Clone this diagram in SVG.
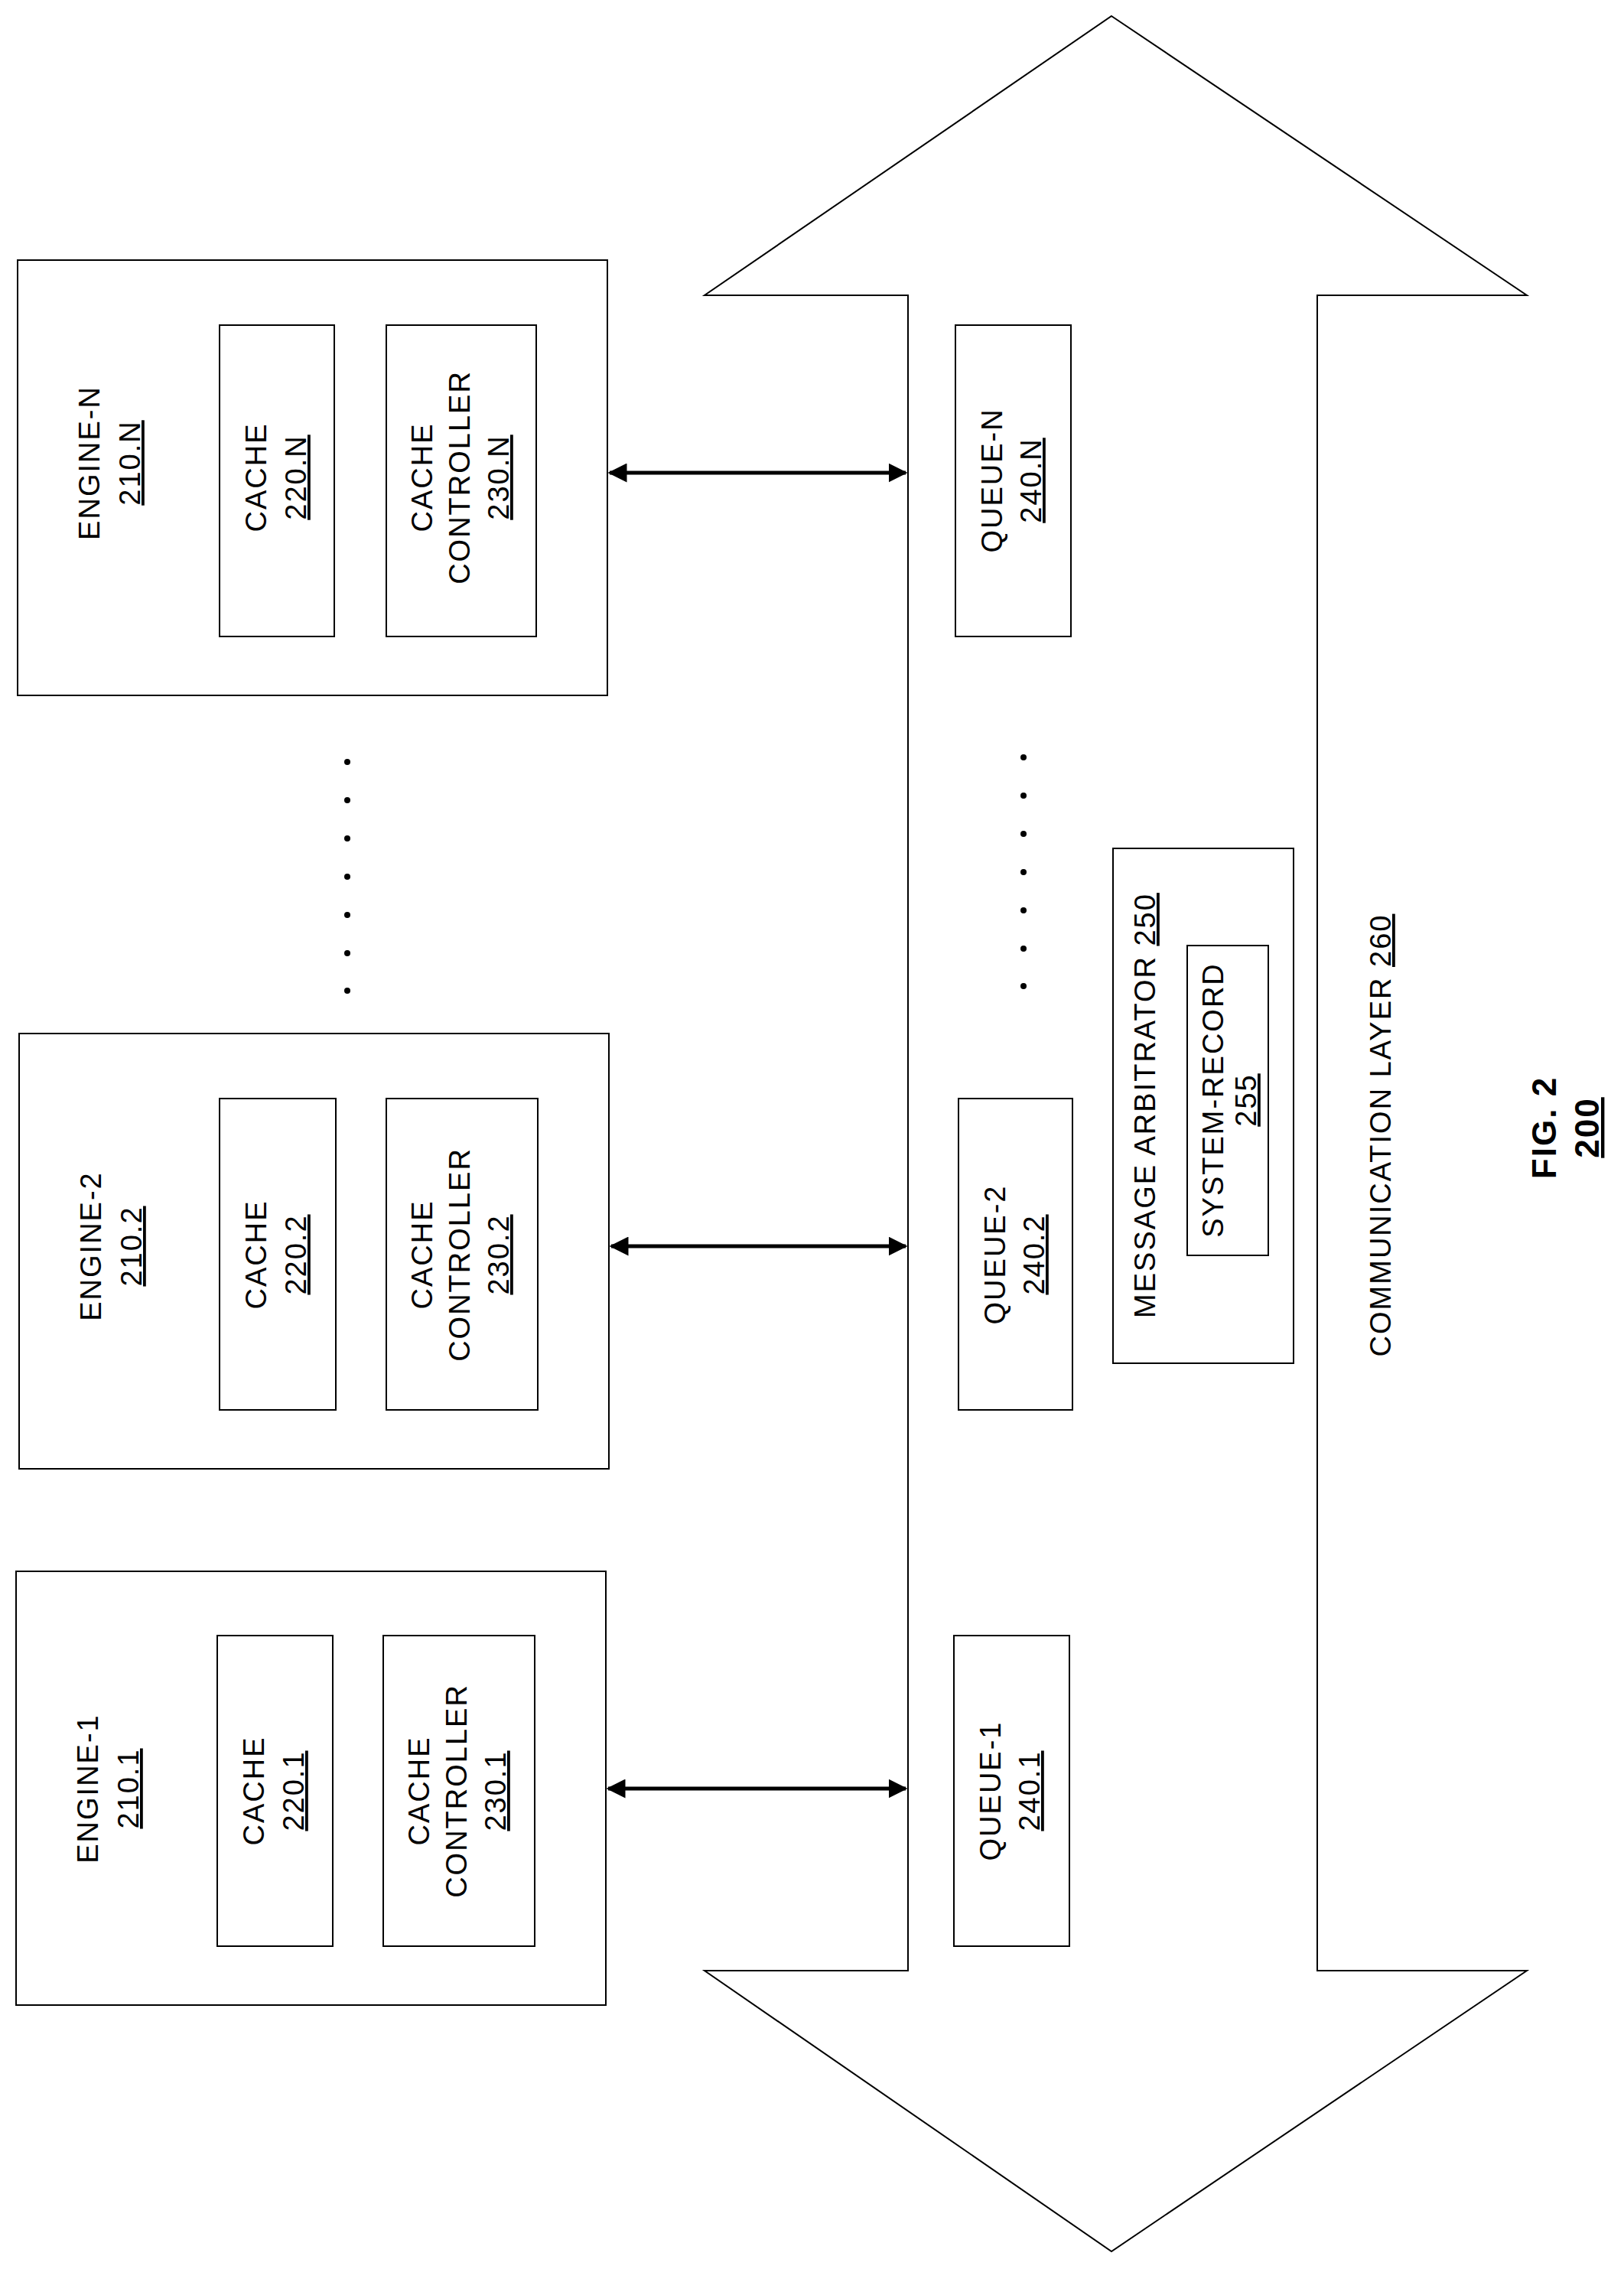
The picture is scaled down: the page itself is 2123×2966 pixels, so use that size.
<svg xmlns="http://www.w3.org/2000/svg" width="2123" height="2966" viewBox="0 0 2123 2966">
<style>
rect,polygon{fill:none;stroke:#000;stroke-width:2}
text{font-family:"Liberation Sans",Arial,sans-serif;font-size:38px;letter-spacing:2px;text-anchor:middle;fill:#000}
.u{text-decoration:underline}
.fig{font-weight:bold;font-size:44px}
.c line{stroke:#000;stroke-width:5}
circle{fill:#000}
</style>
<defs>
<marker id="ah" viewBox="0 0 10 10" refX="9" refY="5" markerWidth="5" markerHeight="5" orient="auto-start-reverse" markerUnits="strokeWidth"><path d="M0,0L10,5L0,10z" fill="#000"/></marker>
</defs>
<g id="comm-layer">
<polygon points="1453,21 1996,386 1722,386 1722,2576 1996,2576 1453,2943 921,2576 1187,2576 1187,386 921,386"/>
<text transform="translate(1818,1484) rotate(-90)">COMMUNICATION LAYER <tspan class="u">260</tspan></text>
</g>
<g id="engine-n">
<rect x="23" y="340" width="771" height="569"/>
<text transform="translate(130,605) rotate(-90)">ENGINE-N</text>
<text transform="translate(183,605) rotate(-90)" class="u">210.N</text>
</g>
<g id="cache-n"><rect x="287" y="425" width="150" height="407"/>
<text transform="translate(348,624) rotate(-90)">CACHE</text>
<text transform="translate(400,624) rotate(-90)" class="u">220.N</text></g>
<g id="ctrl-n"><rect x="505" y="425" width="196" height="407"/>
<text transform="translate(565,624) rotate(-90)">CACHE</text>
<text transform="translate(614,624) rotate(-90)">CONTROLLER</text>
<text transform="translate(665,624) rotate(-90)" class="u">230.N</text></g>
<g id="engine-2">
<rect x="25" y="1351" width="771" height="569"/>
<text transform="translate(132,1629) rotate(-90)">ENGINE-2</text>
<text transform="translate(185,1629) rotate(-90)" class="u">210.2</text>
</g>
<g id="cache-2"><rect x="287" y="1436" width="152" height="407"/>
<text transform="translate(348,1640) rotate(-90)">CACHE</text>
<text transform="translate(400,1640) rotate(-90)" class="u">220.2</text></g>
<g id="ctrl-2"><rect x="505" y="1436" width="198" height="407"/>
<text transform="translate(565,1640) rotate(-90)">CACHE</text>
<text transform="translate(614,1640) rotate(-90)">CONTROLLER</text>
<text transform="translate(665,1640) rotate(-90)" class="u">230.2</text></g>
<g id="engine-1">
<rect x="21" y="2054" width="771" height="567"/>
<text transform="translate(128,2338) rotate(-90)">ENGINE-1</text>
<text transform="translate(181,2338) rotate(-90)" class="u">210.1</text>
</g>
<g id="cache-1"><rect x="284" y="2138" width="151" height="406"/>
<text transform="translate(345,2341) rotate(-90)">CACHE</text>
<text transform="translate(397,2341) rotate(-90)" class="u">220.1</text></g>
<g id="ctrl-1"><rect x="501" y="2138" width="198" height="406"/>
<text transform="translate(561,2341) rotate(-90)">CACHE</text>
<text transform="translate(610,2341) rotate(-90)">CONTROLLER</text>
<text transform="translate(661,2341) rotate(-90)" class="u">230.1</text></g>
<g id="queue-n"><rect x="1249" y="425" width="151" height="407"/>
<text transform="translate(1310,628) rotate(-90)">QUEUE-N</text>
<text transform="translate(1361,628) rotate(-90)" class="u">240.N</text></g>
<g id="queue-2"><rect x="1253" y="1436" width="149" height="407"/>
<text transform="translate(1314,1640) rotate(-90)">QUEUE-2</text>
<text transform="translate(1365,1640) rotate(-90)" class="u">240.2</text></g>
<g id="queue-1"><rect x="1247" y="2138" width="151" height="406"/>
<text transform="translate(1308,2341) rotate(-90)">QUEUE-1</text>
<text transform="translate(1359,2341) rotate(-90)" class="u">240.1</text></g>
<g id="message-arbitrator"><rect x="1455" y="1109" width="236" height="673"/>
<text transform="translate(1510,1445) rotate(-90)">MESSAGE ARBITRATOR <tspan class="u">250</tspan></text></g>
<g id="system-record"><rect x="1552" y="1236" width="106" height="405"/>
<text transform="translate(1599,1438) rotate(-90)">SYSTEM-RECORD</text>
<text transform="translate(1642,1438) rotate(-90)" class="u">255</text></g>
<g id="dots">
<circle cx="454" cy="996" r="4"/><circle cx="454" cy="1046" r="4"/><circle cx="454" cy="1096" r="4"/><circle cx="454" cy="1146" r="4"/><circle cx="454" cy="1196" r="4"/><circle cx="454" cy="1246" r="4"/><circle cx="454" cy="1295" r="4"/>
<circle cx="1338" cy="990" r="4"/><circle cx="1338" cy="1040" r="4"/><circle cx="1338" cy="1090" r="4"/><circle cx="1338" cy="1140" r="4"/><circle cx="1338" cy="1190" r="4"/><circle cx="1338" cy="1240" r="4"/><circle cx="1338" cy="1289" r="4"/>
</g>
<g class="c" id="connectors">
<line x1="797" y1="618" x2="1184" y2="618" marker-start="url(#ah)" marker-end="url(#ah)"/>
<line x1="799" y1="1629" x2="1184" y2="1629" marker-start="url(#ah)" marker-end="url(#ah)"/>
<line x1="795" y1="2338" x2="1184" y2="2338" marker-start="url(#ah)" marker-end="url(#ah)"/>
</g>
<g id="fig-label">
<text class="fig" transform="translate(2034,1474) rotate(-90)">FIG. 2</text>
<text class="fig u" transform="translate(2090,1474) rotate(-90)">200</text>
</g>
</svg>
